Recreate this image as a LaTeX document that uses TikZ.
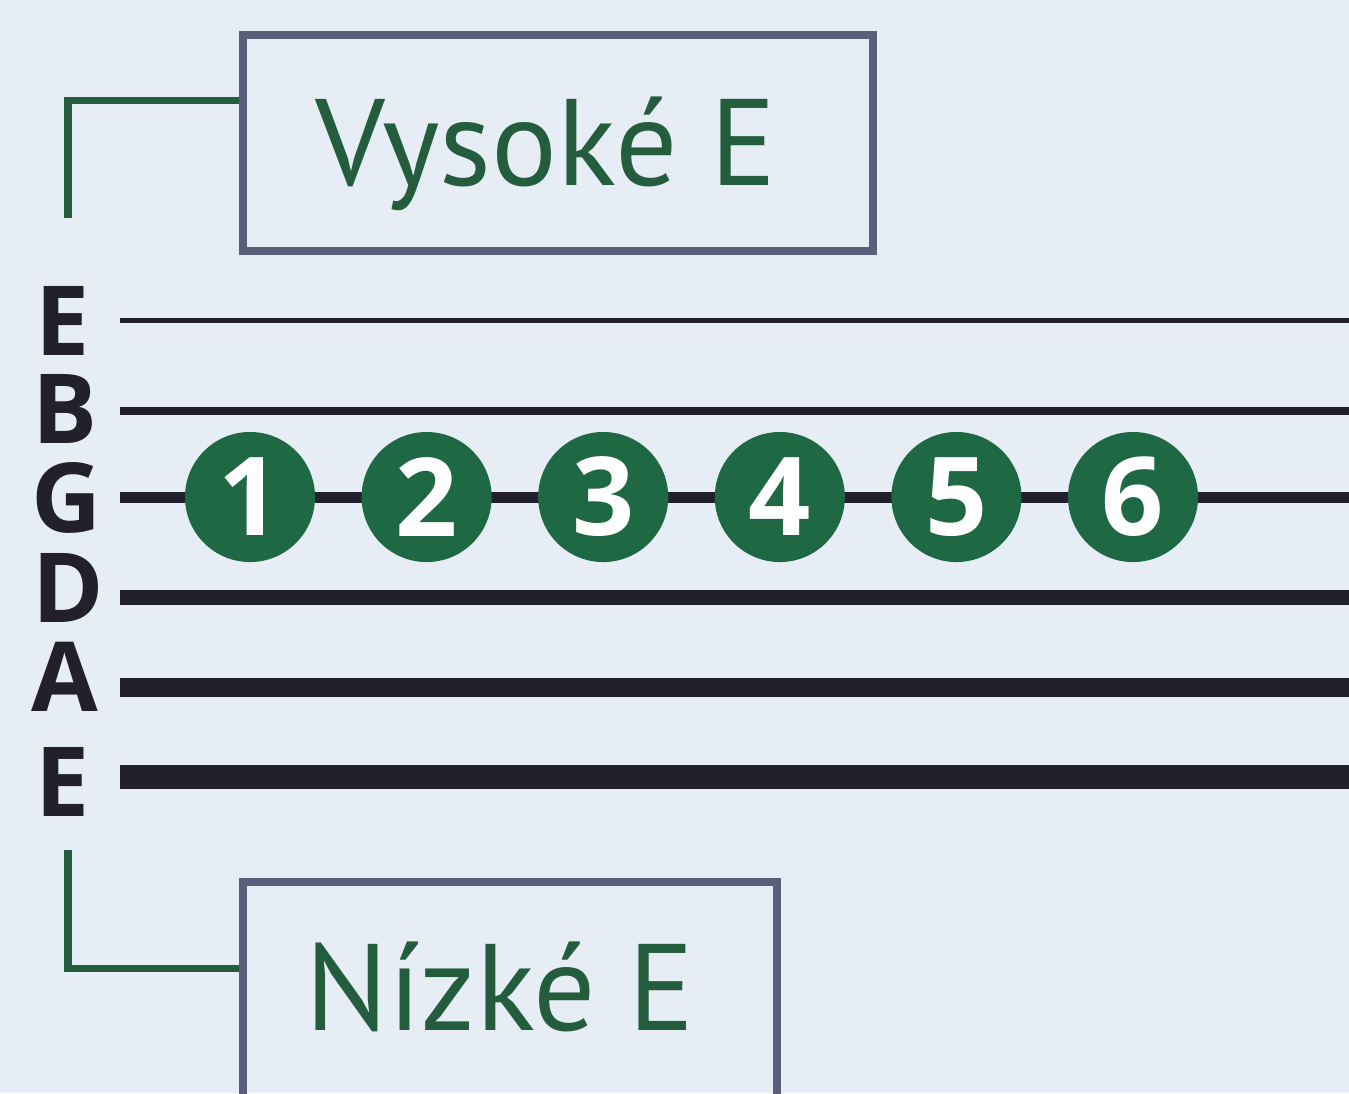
\documentclass[tikz,border=0pt]{standalone}
\usepackage{fontspec}
\setmainfont{PT Sans}
\newfontfamily\boldface{Open Sans}
\usepackage{tikz}
\usetikzlibrary{positioning}
\usepackage{xcolor}
\definecolor{paper}{RGB}{231,237,245}
\definecolor{leaf}{RGB}{36,92,62}
\definecolor{dot}{RGB}{30,104,68}
\definecolor{frame}{RGB}{90,94,122}
\definecolor{ink}{RGB}{34,32,44}

\begin{document}
\begin{tikzpicture}[x=0.01cm,y=-0.01cm,node distance=1.765cm]
  \tikzstyle{note}=[draw=frame,line width=0.08cm,inner sep=0pt]
  \tikzstyle{notetext}=[text=leaf,inner sep=0pt,font=\fontsize{35}{35}\selectfont]
  \tikzstyle{fret}=[circle,fill=dot,text=white,minimum size=1.3cm,inner sep=0pt,
                    font=\boldface\bfseries\fontsize{31}{31}\selectfont]
  \tikzstyle{tune}=[text=ink,inner sep=0pt,text height=0.7cm,text depth=0pt,
                    font=\boldface\bfseries\fontsize{27.5}{27.5}\selectfont]
  \tikzstyle{bracket}=[draw=leaf,line width=0.07cm]
  \tikzstyle{string}=[draw=ink]

  \fill[paper] (0,0) rectangle (1349,1093);
  \clip (0,0) rectangle (1349,1093);

  % strings, thin to thick
  \draw[string,line width=0.05cm] (120,320) -- (1349,320);
  \draw[string,line width=0.08cm] (120,411) -- (1349,411);
  \draw[string,line width=0.11cm] (120,497) -- (1349,497);
  \draw[string,line width=0.15cm] (120,597) -- (1349,597);
  \draw[string,line width=0.19cm] (120,687) -- (1349,687);
  \draw[string,line width=0.24cm] (120,777) -- (1349,777);

  % tuning letters
  \node[tune] (t_e) at (63,320) {E};
  \node[tune] (t_b) at (65,408) {B};
  \node[tune] (t_g) at (67,497) {G};
  \node[tune] (t_d) at (68,587) {D};
  \node[tune] (t_a) at (65,676) {A};
  \node[tune] (t_E) at (63,781) {E};

  % frets on the G string
  \node[fret] (f_1)                 at (250,497) {1};
  \node[fret] (f_2) [right of=f_1]  {2};
  \node[fret] (f_3) [right of=f_2]  {3};
  \node[fret] (f_4) [right of=f_3]  {4};
  \node[fret] (f_5) [right of=f_4]  {5};
  \node[fret] (f_6) [right of=f_5]  {6};

  % high and low E boxes
  \node[note,minimum width=6.29cm,minimum height=2.15cm] (hibox) at (558,143) {};
  \node[notetext,anchor=base] (hitext) at (546,185) {Vysoké E};
  \node[note,minimum width=5.33cm,minimum height=2.6cm] (lobox) at (510,1012) {};
  \node[notetext,anchor=base] (lotext) at (500,1030) {Nízké E};

  \coordinate (hiend) at (68,218);
  \coordinate (hicorner) at (68,100);
  \coordinate (loend) at (68,850);
  \coordinate (locorner) at (68,968);
  \draw[bracket] (hiend) -- (hicorner) -- (hibox.west |- hicorner);
  \draw[bracket] (loend) -- (locorner) -- (lobox.west |- locorner);
\end{tikzpicture}
\end{document}
